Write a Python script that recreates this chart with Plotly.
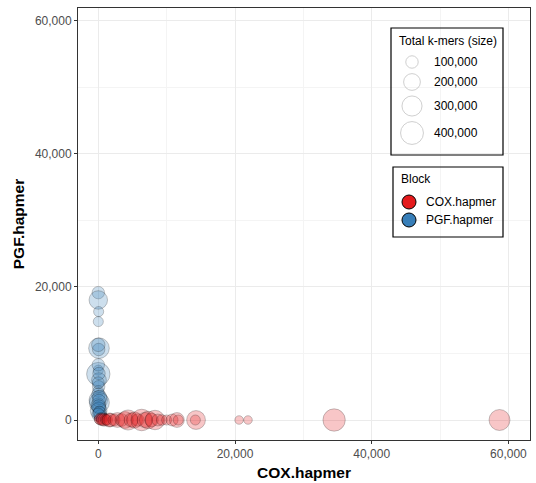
import plotly.graph_objects as go

# ---------------- data ----------------
# COX.hapmer block points: (COX.hapmer count, PGF.hapmer count, total k-mers)
cox_x = [150, 300, 500, 700, 900, 1100, 1300, 1600, 1800, 2300, 2800, 3400, 3900, 4350,
         4800, 5300, 5800, 6350, 6800, 7300, 7800, 8300, 8700, 9300, 10000, 10800,
         11500, 11700, 14300, 14200, 20600, 21900, 34500, 58700]
cox_y = [100, 150, 50, 80, 30, 40, 20, 0, 0, 0, 0, 0, 0, 0,
         0, 0, 0, 0, 0, 0, 0, 0, 0, 0, 0, 0,
         0, 0, 0, 0, 0, 0, 0, 0]
cox_total = [60000, 90000, 80000, 110000, 100000, 70000, 70000, 130000, 120000, 90000,
             150000, 110000, 200000, 300000, 130000, 180000, 100000, 350000, 160000,
             220000, 120000, 280000, 90000, 70000, 60000, 90000, 150000, 60000,
             260000, 60000, 40000, 40000, 380000, 330000]

# PGF.hapmer block points
pgf_x = [0, 0, 50, 0, 100, 50, 0, 0, 100, 50, 0, 0, 0, 150, 0, 100, 50, 200, 300, 500,
         0, 0, 100, 0, 200, 100, 50, 150, 0]
pgf_y = [19150, 18050, 16300, 14800, 10800, 10600, 7500, 6900, 6000, 5000, 4300, 3800,
         3000, 2600, 2200, 1800, 1400, 1000, 600, 300, 8300, 11300, 7000, 5600, 3400,
         2900, 2000, 1200, 800]
pgf_total = [100000, 250000, 60000, 60000, 320000, 100000, 60000, 420000, 150000, 100000,
             80000, 120000, 250000, 300000, 150000, 100000, 200000, 120000, 100000, 80000,
             100000, 120000, 100000, 90000, 140000, 110000, 130000, 90000, 110000]

size_breaks = [100000, 200000, 300000, 400000]
size_labels = ["100,000", "200,000", "300,000", "400,000"]
block_names = ["COX.hapmer", "PGF.hapmer"]
block_colors = ["#E41A1C", "#377EB8"]

x_tickvals = [0, 20000, 40000, 60000]
y_tickvals = [0, 20000, 40000, 60000]


def diam(v):
    return 2 + 0.033 * v ** 0.5


def rgba(hexc, a):
    h = hexc.lstrip("#")
    return "rgba(%d,%d,%d,%s)" % (int(h[0:2], 16), int(h[2:4], 16), int(h[4:6], 16), a)


fig = go.Figure()

fig.add_trace(go.Scatter(
    x=pgf_x, y=pgf_y, mode="markers", showlegend=False,
    marker=dict(size=[diam(v) for v in pgf_total], sizemode="diameter",
                color=rgba(block_colors[1], 0.35),
                line=dict(color="rgba(0,0,0,0.4)", width=0.8)),
))
fig.add_trace(go.Scatter(
    x=cox_x, y=cox_y, mode="markers", showlegend=False,
    marker=dict(size=[diam(v) for v in cox_total], sizemode="diameter",
                color=rgba(block_colors[0], 0.35),
                line=dict(color="rgba(0,0,0,0.4)", width=0.8)),
))

# ---------------- manual legends (pixel coords on overlay axes) ----------------
font = "Liberation Sans, Arial, sans-serif"
size_key_y = [62, 82, 106, 133]
fig.add_trace(go.Scatter(
    x=[412] * 4, y=size_key_y, xaxis="x2", yaxis="y2", mode="markers", showlegend=False,
    hoverinfo="skip",
    marker=dict(size=[diam(v) for v in size_breaks], sizemode="diameter",
                color="rgba(255,255,255,0)", line=dict(color="#BDBDBD", width=1)),
))
block_key_y = [202, 220]
fig.add_trace(go.Scatter(
    x=[409, 409], y=block_key_y, xaxis="x2", yaxis="y2", mode="markers", showlegend=False,
    hoverinfo="skip",
    marker=dict(size=14, color=block_colors, line=dict(color="black", width=1)),
))

boxes = [(391, 503, 28, 155), (393, 503, 167, 237)]
shapes = []
for x0, x1, y0, y1 in boxes:
    shapes.append(dict(type="rect", xref="x2", yref="y2", x0=x0, x1=x1, y0=y0, y1=y1,
                       line=dict(width=0), fillcolor="white", layer="below"))
    shapes.append(dict(type="rect", xref="x2", yref="y2", x0=x0, x1=x1, y0=y0, y1=y1,
                       line=dict(color="black", width=1.2), fillcolor="rgba(0,0,0,0)",
                       layer="above"))
annotations = [
    dict(text="Total k-mers (size)", x=397, y=41, xref="x2", yref="y2", xanchor="left",
         yanchor="middle", showarrow=False, font=dict(size=12, color="black", family=font)),
    dict(text="Block", x=399, y=179, xref="x2", yref="y2", xanchor="left",
         yanchor="middle", showarrow=False, font=dict(size=12, color="black", family=font)),
]
for lab, yy in zip(size_labels, size_key_y):
    annotations.append(dict(text=lab, x=432, y=yy, xref="x2", yref="y2", xanchor="left",
                            yanchor="middle", showarrow=False,
                            font=dict(size=12, color="black", family=font)))
for lab, yy in zip(block_names, block_key_y):
    annotations.append(dict(text=lab, x=424, y=yy, xref="x2", yref="y2", xanchor="left",
                            yanchor="middle", showarrow=False,
                            font=dict(size=12, color="black", family=font)))

axis_common = dict(
    showline=True, mirror=True, linecolor="#333333", linewidth=1,
    ticks="outside", ticklen=3, tickcolor="#333333", tickwidth=1,
    tickformat=",d", tickfont=dict(size=12, color="#4D4D4D", family=font),
    showgrid=True, gridcolor="#EBEBEB", gridwidth=1, zeroline=False,
    minor=dict(dtick=10000, tick0=0, showgrid=True, gridcolor="#F4F4F4", gridwidth=0.6,
               ticks=""),
)

fig.update_layout(
    width=536, height=483,
    margin=dict(l=78, r=6, t=8, b=43),
    paper_bgcolor="white", plot_bgcolor="white",
    font=dict(family=font),
    xaxis=dict(range=[-2970, 63160], tickvals=x_tickvals,
               title=dict(text="<b>COX.hapmer</b>", font=dict(size=15.5, color="black"),
                          standoff=6),
               **axis_common),
    yaxis=dict(range=[-3007, 61950], tickvals=y_tickvals,
               title=dict(text="<b>PGF.hapmer</b>", font=dict(size=15.5, color="black"),
                          standoff=6),
               **axis_common),
    xaxis2=dict(overlaying="x", range=[78, 530], visible=False, fixedrange=True),
    yaxis2=dict(overlaying="y", range=[440, 8], visible=False, fixedrange=True),
    shapes=shapes,
    annotations=annotations,
    showlegend=False,
)

fig.write_html("out.html")
